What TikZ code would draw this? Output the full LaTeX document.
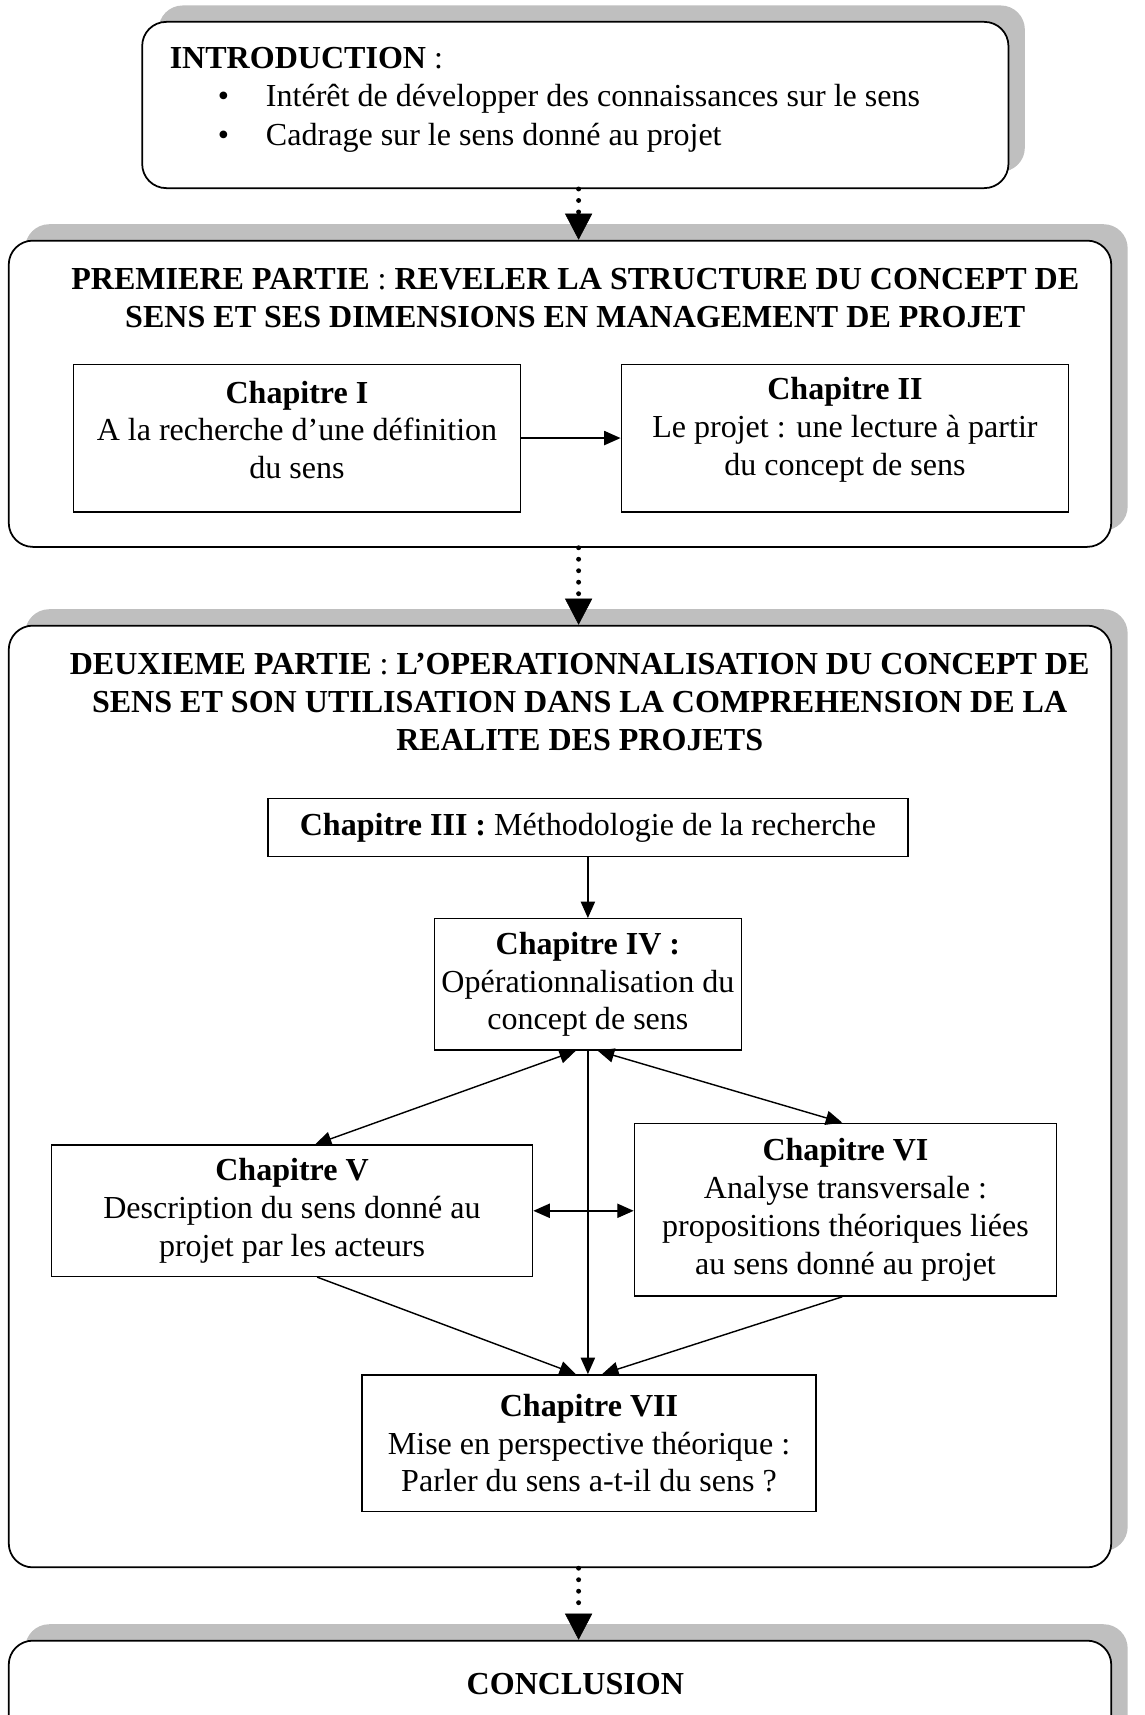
\documentclass[tikz,border=0pt]{standalone}
\usepackage{fontspec}
\setmainfont{Liberation Serif}
\usetikzlibrary{arrows.meta,shadows}

\tikzset{
  partbox/.style={draw, line width=1.6pt, rounded corners=22pt, fill=white, inner sep=0pt,
    drop shadow={shadow xshift=15pt, shadow yshift=15pt, fill=black!25, opacity=1}},
  chapbox/.style={draw, line width=1.3pt, fill=white, align=center, inner sep=0pt},
  arr/.style={line width=1.3pt, -{Triangle[length=15pt,width=13pt]}},
  dblarr/.style={line width=1.3pt, {Triangle[length=15pt,width=13pt]}-{Triangle[length=15pt,width=13pt]}},
  dotarr/.style={line width=4.5pt, line cap=round, dash pattern=on 0pt off 10.5pt,
    -{Triangle[length=24pt,width=25pt,line width=0.5pt]}},
}

\begin{document}
\begin{tikzpicture}[x=1pt,y=-1pt,font=\fontsize{29.3}{34.5}\selectfont]
\useasboundingbox (0,0) rectangle (1046,1568);
\clip (0,0) rectangle (1046,1568);
\coordinate (spine) at (529,0);

% outer boxes
\node[partbox, minimum width=792pt, minimum height=152pt] (intro) at (526,96) {};
\node[partbox, minimum width=1008pt, minimum height=280pt] (p1) at (512,360) {};
\node[partbox, minimum width=1008pt, minimum height=861pt] (p2) at (512,1002.5) {};
\node[partbox, minimum width=1008pt, minimum height=130pt] (concl) at (512,1565) {};

% introduction
\node[anchor=west, inner sep=0pt] (introtitle) at (155,53) {\textbf{INTRODUCTION} :};
\node[anchor=west, inner sep=0pt] (introa) at (199,90) {\makebox[44pt][l]{\textbullet}Intérêt de développer des connaissances sur le sens};
\node[anchor=west, inner sep=0pt] (introb) at (199,126) {\makebox[44pt][l]{\textbullet}Cadrage sur le sens donné au projet};

% titles
\node[align=center] (p1title) at (526,272.5) {\textbf{PREMIERE PARTIE} : \textbf{REVELER LA STRUCTURE DU CONCEPT DE}\\\textbf{SENS ET SES DIMENSIONS EN MANAGEMENT DE PROJET}};
\node[align=center] (p2title) at (530,642) {\textbf{DEUXIEME PARTIE} : \textbf{L’OPERATIONNALISATION DU CONCEPT DE}\\\textbf{SENS ET SON UTILISATION DANS LA COMPREHENSION DE LA}\\\textbf{REALITE DES PROJETS}};
\node (concltitle) at (526,1540) {\textbf{CONCLUSION}};

% chapters
\node[chapbox, minimum width=409pt, minimum height=135pt] (c1) at (271.5,400.5) {};
\node[align=center] (c1txt) at (271.5,393) {\textbf{Chapitre I}\\A la recherche d’une définition\\du sens};
\node[chapbox, minimum width=409pt, minimum height=135pt] (c2) at (772.5,400.5) {};
\node[align=center] (c2txt) at (772.5,393) {\textbf{Chapitre II}\\Le projet : une lecture à partir\\du concept de sens};
\node[chapbox, minimum width=585pt, minimum height=53pt] (c3) at (537.5,756.5) {\textbf{Chapitre III :} Méthodologie de la recherche};
\node[chapbox, minimum width=281pt, minimum height=120pt] (c4) at (537.5,900) {\textbf{Chapitre IV :}\\Opérationnalisation du\\concept de sens};
\node[chapbox, minimum width=440pt, minimum height=120pt] (c5) at (267,1107) {\textbf{Chapitre V}\\Description du sens donné au\\projet par les acteurs};
\node[chapbox, minimum width=386pt, minimum height=158pt] (c6) at (773,1106) {\textbf{Chapitre VI}\\Analyse transversale :\\propositions théoriques liées\\au sens donné au projet};
\node[chapbox, minimum width=415pt, minimum height=125pt] (c7) at (538.5,1319.5) {\textbf{Chapitre VII}\\Mise en perspective théorique :\\Parler du sens a-t-il du sens ?};

% dotted links between parts
\path[draw,dotarr] (intro.south -| spine) -- (p1.north -| spine);
\path[draw,dotarr] (p1.south -| spine) -- (p2.north -| spine);
\path[draw,dotarr] (p2.south -| spine) -- (concl.north -| spine);

% links between chapters
\path[draw,arr] (c1) -- (c2);
\path[draw,arr] (c3.south) -- (c3.south |- c4.north);
\path[draw,dblarr] ([xshift=-11pt]c4.south) -- ([xshift=21pt]c5.north);
\path[draw,dblarr] ([xshift=9pt]c4.south) -- ([xshift=-3pt]c6.north);
\path[draw,arr] (c4.south) -- (c4.south |- c7.north);
\path[draw,arr] ([xshift=23pt]c5.south) -- ([xshift=-12pt]c7.north);
\path[draw,arr] ([xshift=-3pt]c6.south) -- ([xshift=12pt]c7.north);
\path[draw,dblarr] (c5.east) -- (c5.east -| c6.west);
\end{tikzpicture}
\end{document}
